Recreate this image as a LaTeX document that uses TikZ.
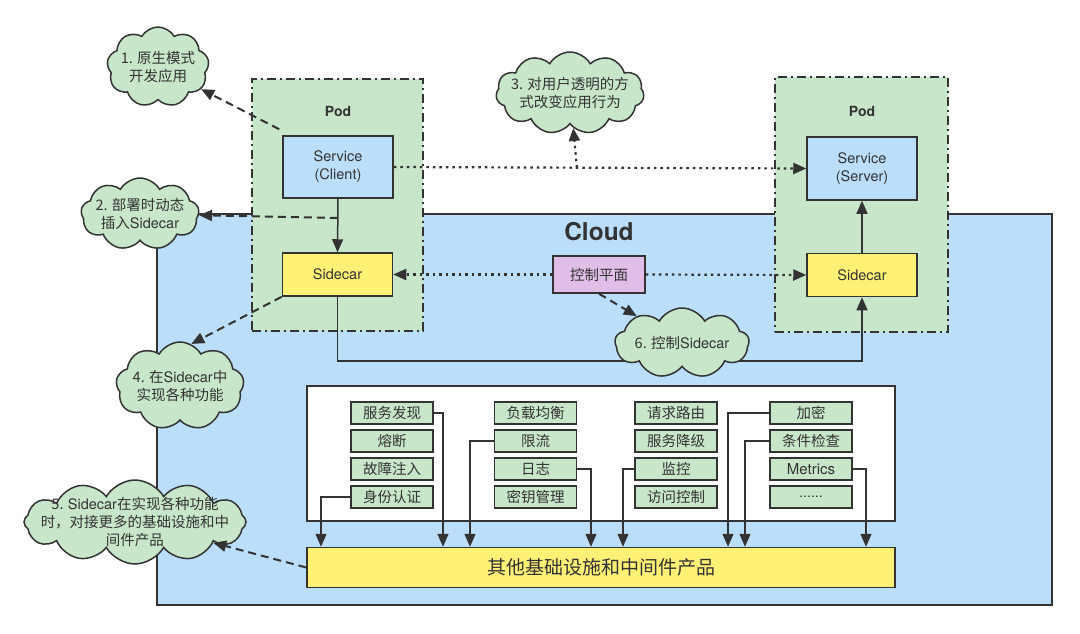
\documentclass[tikz,border=0pt]{standalone}
\usepackage{fontspec}
\setmainfont{Noto Sans CJK SC}
\newfontfamily\lat{TeX Gyre Heros}
\usetikzlibrary{arrows.meta,shapes.symbols,calc}
\definecolor{ln}{HTML}{333333}
\definecolor{cloudbg}{HTML}{BBDEFB}
\definecolor{grn}{HTML}{C8E6C9}
\definecolor{ylw}{HTML}{FFF176}
\definecolor{pnk}{HTML}{E1BEE7}
\begin{document}
\begin{tikzpicture}[x=1pt,y=-1pt,
  box/.style={draw=ln, line width=1.5pt, text=ln, inner sep=0pt, align=center},
  svcbox/.style={box, fill=cloudbg, minimum width=110pt, font=\lat\fontsize{14.5}{18}\selectfont},
  sidebox/.style={box, fill=ylw, minimum width=110pt, minimum height=43pt, font=\lat\fontsize{14.5}{18}\selectfont},
  fbox/.style={box, fill=grn, minimum width=82pt, minimum height=22pt, font=\fontsize{14.5}{16}\selectfont},
  podbox/.style={draw=ln, line width=2pt, fill=grn, dash pattern=on 9pt off 4pt on 2pt off 4pt},
  podlbl/.style={text=ln, font=\lat\bfseries\fontsize{14}{16}\selectfont},
  arr/.style={draw=ln, line width=1.5pt, -{Triangle[length=13pt,width=11pt]}},
  dasharr/.style={arr, line width=2pt, dash pattern=on 8pt off 5pt},
  dotarr/.style={arr, line width=2.2pt, dash pattern=on 2.5pt off 4pt},
  cloudnode/.style={cloud, cloud puffs=10, cloud puff arc=120, cloud ignores aspect, draw=ln, line width=1.5pt, fill=grn, inner sep=0pt},
  cloudtxt/.style={text=ln, font=\fontsize{14.5}{18}\selectfont, align=center}
]
\useasboundingbox (0,0) rectangle (1080,633);

% Cloud background
\node[draw=ln, line width=1.5pt, fill=cloudbg, minimum width=895pt, minimum height=391pt, inner sep=0pt] (bg) at (604.5,409.5) {};
\node[text=ln, font=\lat\bfseries\fontsize{24.5}{28}\selectfont] (cloudlbl) at (599,232) {Cloud};

% Pods
\node[podbox, minimum width=171pt, minimum height=252pt, inner sep=0pt] (podL) at (337.5,205) {};
\node[podbox, minimum width=173pt, minimum height=255pt, inner sep=0pt] (podR) at (861.5,204.5) {};
\node[podlbl] (podLl) at (338,111) {Pod};
\node[podlbl] (podRl) at (862,111) {Pod};

% Services and sidecars
\node[svcbox, minimum height=62pt] (svcC) at (338,167) {Service\\(Client)};
\node[svcbox, minimum height=63pt] (svcS) at (862,168.5) {Service\\(Server)};
\node[sidebox] (scL) at (337.5,274.5) {Sidecar};
\node[sidebox] (scR) at (862,275) {Sidecar};
\node[box, fill=pnk, minimum width=92pt, minimum height=37pt, font=\fontsize{14.5}{16}\selectfont] (ctrl) at (599,274.5) {控制平面};

% White box and bottom bar
\node[draw=ln, line width=1.5pt, fill=white, minimum width=588pt, minimum height=135pt, inner sep=0pt] (wb) at (601,453.5) {};
\node[box, fill=ylw, minimum width=588pt, minimum height=40pt, font=\fontsize{19}{22}\selectfont] (bar) at (601,567.5) {其他基础设施和中间件产品};

% Feature boxes
\node[fbox] (a1) at (392,413) {服务发现};
\node[fbox] (a2) at (392,441) {熔断};
\node[fbox] (a3) at (392,469) {故障注入};
\node[fbox] (a4) at (392,497) {身份认证};
\node[fbox] (b1) at (535.5,413) {负载均衡};
\node[fbox] (b2) at (535.5,441) {限流};
\node[fbox] (b3) at (535.5,469) {日志};
\node[fbox] (b4) at (535.5,497) {密钥管理};
\node[fbox] (c1b) at (676,413) {请求路由};
\node[fbox] (c2b) at (676,441) {服务降级};
\node[fbox] (c3b) at (676,469) {监控};
\node[fbox] (c4b) at (676,497) {访问控制};
\node[fbox] (d1) at (811,413) {加密};
\node[fbox] (d2) at (811,441) {条件检查};
\node[fbox, font=\lat\fontsize{15}{16}\selectfont] (d3) at (811,469) {Metrics};
\node[fbox, font=\lat\fontsize{14}{16}\selectfont] (d4) at (811,497) {......};

% connector x positions
\coordinate (xa1) at (443,0);
\coordinate (xa4) at (321,0);
\coordinate (xb2) at (470,0);
\coordinate (xb3) at (591,0);
\coordinate (xc3) at (623,0);
\coordinate (xd1) at (728,0);
\coordinate (xd2) at (745,0);
\coordinate (xd3) at (866,0);
\draw[arr] (a1.east) -| (xa1 |- bar.north);
\draw[arr] (a4.west) -| (xa4 |- bar.north);
\draw[arr] (b2.west) -| (xb2 |- bar.north);
\draw[arr] (b3.east) -| (xb3 |- bar.north);
\draw[arr] (c3b.west) -| (xc3 |- bar.north);
\draw[arr] (d1.west) -| (xd1 |- bar.north);
\draw[arr] (d2.west) -| (xd2 |- bar.north);
\draw[arr] (d3.east) -| (xd3 |- bar.north);

% main connectors
\draw[arr] (svcC.south) -- (scL.north);
\draw[arr] (scR.north) -- (svcS.south);
\draw[arr] (scL.south) -- ++(0,64) -| (scR.south);
\draw[dotarr] (svcC.east) -- (svcS.west);
\draw[dotarr] (ctrl.west) -- (scL.east);
\draw[dotarr] (ctrl.east) -- (scR.west);

% Clouds
\node[cloudnode, cloud puffs=9, minimum width=102pt, minimum height=80pt, label={[cloudtxt]center:1. 原生模式\\开发应用}] (k1) at (158,67) {};
\node[cloudnode, cloud puffs=9, minimum width=118pt, minimum height=72pt, label={[cloudtxt]center:2. 部署时动态\\插入{\lat Sidecar}}] (k2) at (140,214) {};
\node[cloudnode, cloud puffs=11, minimum width=148pt, minimum height=82pt, label={[cloudtxt]center:3. 对用户透明的方\\式改变应用行为}] (k3) at (570,93) {};
\node[cloudnode, cloud puffs=9, minimum width=128pt, minimum height=88pt, label={[cloudtxt]center:4. 在{\lat Sidecar}中\\实现各种功能}] (k4) at (180,386) {};
\node[cloudnode, cloud puffs=12, minimum width=222pt, minimum height=84pt, label={[cloudtxt]center:5. {\lat Sidecar}在实现各种功能\\时，对接更多的基础设施和中\\间件产品}] (k5) at (135,522) {};
\node[cloudnode, cloud puffs=9, minimum width=134pt, minimum height=70pt, label={[cloudtxt]center:6. 控制{\lat Sidecar}}] (k6) at (682,343) {};

% dashed arrows to clouds
\coordinate (m2) at ($(svcC.south)!0.36!(scL.north)$);
\coordinate (m3) at ($(svcC.east)!0.444!(svcS.west)$);
\draw[dasharr] ($(svcC.north west)+(-3,-6)$) -- (k1);
\draw[dasharr] (m2) -- (k2);
\draw[dotarr] (m3) -- (k3);
\draw[dasharr] (scL.south west) -- (k4.75);
\draw[dasharr] (bar.west) -- (k5);
\draw[dasharr] (ctrl.south) -- (k6);
\end{tikzpicture}
\end{document}
